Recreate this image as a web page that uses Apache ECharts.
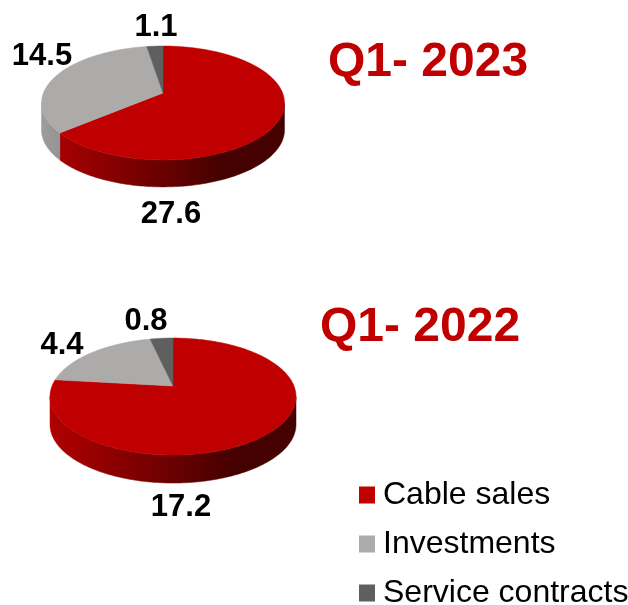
<!DOCTYPE html>
<html>
<head>
<meta charset="utf-8">
<style>html,body{margin:0;padding:0;background:#fff}#chart{width:628px;height:605px}</style>
<script src="https://cdn.jsdelivr.net/npm/echarts@6/dist/echarts.min.js"></script>
</head>
<body>
<div id="chart"></div>
<script>
const categories = ['Cable sales', 'Investments', 'Service contracts'];
const periods = ['Q1- 2023', 'Q1- 2022'];
const cableSales = [27.6, 17.2];
const investments = [14.5, 4.4];
const serviceContracts = [1.1, 0.8];
const seriesValues = [cableSales, investments, serviceContracts];

const colors = ['#C00000', '#ADAAAA', '#5F5F5F'];
const FONT = '"Liberation Sans", Arial, sans-serif';

// Projection of each tilted disc
const pies = [
  { cx: 163, cy: 93, A: 55.2, B: 119.6, k: 0.175, depth: 27 },
  { cx: 173, cy: 386, A: 56.6, B: 121, k: 0.18, depth: 28 }
];
// Label anchor per pie, per series
const labelAnchors = [
  [[171, 214], [42, 56], [156, 27]],
  [[181, 507], [62, 345], [146, 321]]
];

function project(p, t) {
  const x = Math.sin(t), y = -Math.cos(t), w = 1 - p.k * y;
  return [p.cx + p.B * x / w, p.cy + p.A * y / w];
}
function arcPoints(p, a, b) {
  const n = Math.max(2, Math.ceil((b - a) / (Math.PI / 180)));
  const pts = [];
  for (let i = 0; i <= n; i++) pts.push(project(p, a + (b - a) * i / n));
  return pts;
}
function shade(hex, f) {
  const c = echarts.color.parse(hex);
  return 'rgb(' + Math.round(c[0] * f) + ',' + Math.round(c[1] * f) + ',' + Math.round(c[2] * f) + ')';
}

function renderSlice(params, api) {
  const pieIndex = api.value(0);
  const value = api.value(1);
  const s = params.seriesIndex;
  const p = pies[pieIndex];
  const total = seriesValues.reduce((acc, arr) => acc + arr[pieIndex], 0);
  const before = seriesValues.slice(0, s).reduce((acc, arr) => acc + arr[pieIndex], 0);
  const a = before / total * 2 * Math.PI;
  const b = (before + value) / total * 2 * Math.PI;
  const color = api.visual('color');
  const children = [];

  // Side wall: only the part of the rim that faces the viewer
  const frontA = Math.PI / 2 + Math.asin(p.k);
  const frontB = 2 * Math.PI - frontA;
  const sa = Math.max(a, frontA), sb = Math.min(b, frontB);
  if (sb > sa) {
    const rim = arcPoints(p, sa, sb);
    const lower = rim.map(q => [q[0], q[1] + p.depth]).reverse();
    const x0 = p.cx - p.B * 1.016, x1 = p.cx + p.B * 1.016;
    const fill = new echarts.graphic.LinearGradient(x0, 0, x1, 0, [
      { offset: 0, color: shade(color, 0.92) },
      { offset: 0.75, color: shade(color, 0.36) },
      { offset: 1, color: shade(color, 0.36) }
    ], true);
    children.push({
      type: 'polygon',
      shape: { points: rim.concat(lower) },
      style: { fill: fill, stroke: fill, lineWidth: 0.5 }
    });
  }
  // Top face
  children.push({
    type: 'polygon',
    shape: { points: [[p.cx, p.cy]].concat(arcPoints(p, a, b)) },
    style: { fill: color, stroke: color, lineWidth: 0.5 }
  });
  // Value label
  const at = labelAnchors[pieIndex][s];
  children.push({
    type: 'text',
    x: at[0], y: at[1],
    style: {
      text: String(value), fill: '#000',
      font: 'bold 31px ' + FONT, align: 'center', verticalAlign: 'middle'
    }
  });
  return { type: 'group', children: children };
}

const chart = echarts.init(document.getElementById('chart'), null, { renderer: 'canvas' });
chart.setOption({
  animation: false,
  backgroundColor: '#fff',
  title: [
    { text: periods[0], left: 328, top: 39, padding: 0,
      textStyle: { color: '#C00000', fontSize: 48, fontWeight: 'bold', fontFamily: FONT } },
    { text: periods[1], left: 320, top: 304, padding: 0,
      textStyle: { color: '#C00000', fontSize: 48, fontWeight: 'bold', fontFamily: FONT } }
  ],
  legend: {
    orient: 'vertical', left: 359, top: 479, width: 269, height: 200, padding: 0,
    icon: 'rect', itemWidth: 16, itemHeight: 17, itemGap: 17,
    data: categories, selectedMode: false,
    textStyle: { color: '#000', fontSize: 32, fontFamily: FONT, padding: [0, 0, 0, 3] }
  },
  series: categories.map((name, i) => ({
    type: 'custom',
    name: name,
    coordinateSystem: 'none',
    itemStyle: { color: colors[i] },
    renderItem: renderSlice,
    data: seriesValues[i].map((v, j) => [j, v])
  }))
});
</script>
</body>
</html>
